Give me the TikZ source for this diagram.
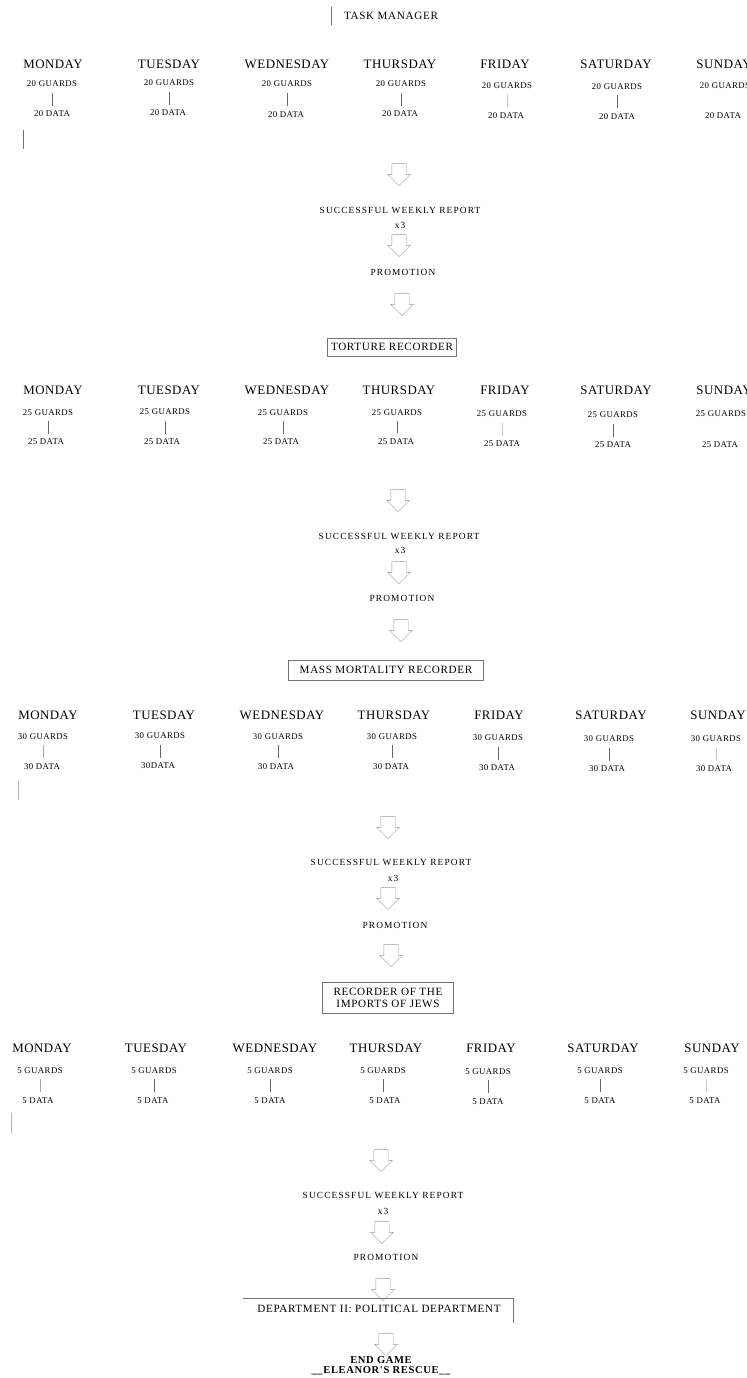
\documentclass[tikz,border=0pt]{standalone}
\usepackage{fontspec}
\setmainfont{Liberation Serif}
\newfontfamily\dayfont[LetterSpace=4]{Liberation Serif}
\newfontfamily\tallyfont[LetterSpace=5]{Liberation Serif}
\newfontfamily\reportfont[LetterSpace=12]{Liberation Serif}
\newfontfamily\postfont[LetterSpace=6]{Liberation Serif}
\usetikzlibrary{shapes.arrows}

\begin{document}
\begin{tikzpicture}
  [
    x=0.03cm, y=-0.03cm,
    day node/.style={font=\dayfont\fontsize{11}{12}\selectfont},
    tally node/.style={font=\tallyfont\fontsize{7.5}{8.5}\selectfont},
    report node/.style={font=\reportfont\fontsize{8}{9}\selectfont},
    post node/.style={font=\postfont\fontsize{9.5}{10}\selectfont, align=center},
    box node/.style={post node, draw=black!55, line width=0.5pt, inner sep=0pt},
    box line/.style={draw=black!55, line width=0.5pt},
    link line/.style={draw=black!60, line width=0.5pt, shorten <=1.5pt, shorten >=1pt},
    faint line/.style={link line, draw=black!20},
    down arrow/.style={single arrow, draw=black!40, line width=0.4pt, rotate=-90,
      minimum height=0.66cm, inner xsep=0pt, inner ysep=0.21cm, single arrow head extend=0.12cm}
    ]

  \useasboundingbox (0,0) rectangle (746,1378);

  \node (tm) [post node] at (391,16) {TASK MANAGER};
  \coordinate (tmtop) at (331,7);
  \coordinate (tmbot) at (331,25);
  \draw[box line] (tmtop) -- (tmbot);

  \node (mon1) [day node] at (53,64) {MONDAY};
  \node (tue1) [day node] at (169,64) {TUESDAY};
  \node (wed1) [day node] at (287,64) {WEDNESDAY};
  \node (thu1) [day node] at (400,64) {THURSDAY};
  \node (fri1) [day node] at (505,64) {FRIDAY};
  \node (sat1) [day node] at (616,64) {SATURDAY};
  \node (sun1) [day node] at (724,64) {SUNDAY};
  \node (mon1g) [tally node] at (52,84) {20 GUARDS};
  \node (tue1g) [tally node] at (169,83) {20 GUARDS};
  \node (wed1g) [tally node] at (287,84) {20 GUARDS};
  \node (thu1g) [tally node] at (401,84) {20 GUARDS};
  \node (fri1g) [tally node] at (507,85.5) {20 GUARDS};
  \node (sat1g) [tally node] at (617,86.5) {20 GUARDS};
  \node (sun1g) [tally node] at (725,86) {20 GUARDS};
  \node (mon1d) [tally node] at (52,114) {20 DATA};
  \node (tue1d) [tally node] at (168,113) {20 DATA};
  \node (wed1d) [tally node] at (286,114.5) {20 DATA};
  \node (thu1d) [tally node] at (400,114) {20 DATA};
  \node (fri1d) [tally node] at (506,115.5) {20 DATA};
  \node (sat1d) [tally node] at (617,116.5) {20 DATA};
  \node (sun1d) [tally node] at (723,116) {20 DATA};
  \draw[link line] (mon1g) -- (mon1g |- mon1d.north);
  \draw[link line] (tue1g) -- (tue1g |- tue1d.north);
  \draw[link line] (wed1g) -- (wed1g |- wed1d.north);
  \draw[link line] (thu1g) -- (thu1g |- thu1d.north);
  \draw[faint line] (fri1g) -- (fri1g |- fri1d.north);
  \draw[link line] (sat1g) -- (sat1g |- sat1d.north);
  \coordinate (tick1a) at (23,130);
  \coordinate (tick1b) at (23,149);
  \draw[box line] (tick1a) -- (tick1b);

  \node (dn1) [down arrow] at (399,171) {};
  \node (rep1) [report node] at (400,210) {SUCCESSFUL WEEKLY REPORT};
  \node (x31) [report node] at (400,225) {x3};
  \node (dn2) [down arrow] at (399,242) {};
  \node (pro1) [report node] at (403,272) {PROMOTION};
  \node (dn3) [down arrow] at (402,301) {};
  \node (tort) [box node, minimum width=3.87cm, minimum height=0.55cm] at (392,347) {TORTURE RECORDER};

  \node (mon2) [day node] at (53,390) {MONDAY};
  \node (tue2) [day node] at (169,390) {TUESDAY};
  \node (wed2) [day node] at (287,390) {WEDNESDAY};
  \node (thu2) [day node] at (399,390) {THURSDAY};
  \node (fri2) [day node] at (505,390) {FRIDAY};
  \node (sat2) [day node] at (616,390) {SATURDAY};
  \node (sun2) [day node] at (724,390) {SUNDAY};
  \node (mon2g) [tally node] at (48,412.5) {25 GUARDS};
  \node (tue2g) [tally node] at (165,412) {25 GUARDS};
  \node (wed2g) [tally node] at (283,412.5) {25 GUARDS};
  \node (thu2g) [tally node] at (397,412.5) {25 GUARDS};
  \node (fri2g) [tally node] at (502,414) {25 GUARDS};
  \node (sat2g) [tally node] at (613,415) {25 GUARDS};
  \node (sun2g) [tally node] at (721,414) {25 GUARDS};
  \node (mon2d) [tally node] at (46,442) {25 DATA};
  \node (tue2d) [tally node] at (162,442) {25 DATA};
  \node (wed2d) [tally node] at (281,442) {25 DATA};
  \node (thu2d) [tally node] at (396,441.5) {25 DATA};
  \node (fri2d) [tally node] at (502,444) {25 DATA};
  \node (sat2d) [tally node] at (613,445) {25 DATA};
  \node (sun2d) [tally node] at (720,445) {25 DATA};
  \draw[link line] (mon2g) -- (mon2g |- mon2d.north);
  \draw[link line] (tue2g) -- (tue2g |- tue2d.north);
  \draw[link line] (wed2g) -- (wed2g |- wed2d.north);
  \draw[link line] (thu2g) -- (thu2g |- thu2d.north);
  \draw[faint line] (fri2g) -- (fri2g |- fri2d.north);
  \draw[link line] (sat2g) -- (sat2g |- sat2d.north);

  \node (dn4) [down arrow] at (398,497) {};
  \node (rep2) [report node] at (399,536) {SUCCESSFUL WEEKLY REPORT};
  \node (x32) [report node] at (400,550) {x3};
  \node (dn5) [down arrow] at (399,569) {};
  \node (pro2) [report node] at (402,598) {PROMOTION};
  \node (dn6) [down arrow] at (401,627) {};
  \node (mass) [box node, minimum width=5.85cm, minimum height=0.6cm] at (386,670) {MASS MORTALITY RECORDER};

  \node (mon3) [day node] at (48,715) {MONDAY};
  \node (tue3) [day node] at (164,715) {TUESDAY};
  \node (wed3) [day node] at (282,715) {WEDNESDAY};
  \node (thu3) [day node] at (394,715) {THURSDAY};
  \node (fri3) [day node] at (499,715) {FRIDAY};
  \node (sat3) [day node] at (611,715) {SATURDAY};
  \node (sun3) [day node] at (718,715) {SUNDAY};
  \node (mon3g) [tally node] at (43,736.5) {30 GUARDS};
  \node (tue3g) [tally node] at (160,736) {30 GUARDS};
  \node (wed3g) [tally node] at (278,736.5) {30 GUARDS};
  \node (thu3g) [tally node] at (392,736.5) {30 GUARDS};
  \node (fri3g) [tally node] at (498,738) {30 GUARDS};
  \node (sat3g) [tally node] at (609,739) {30 GUARDS};
  \node (sun3g) [tally node] at (716,739) {30 GUARDS};
  \node (mon3d) [tally node] at (42,766.5) {30 DATA};
  \node (tue3d) [tally node] at (158,766) {30DATA};
  \node (wed3d) [tally node] at (276,766.5) {30 DATA};
  \node (thu3d) [tally node] at (391,766.5) {30 DATA};
  \node (fri3d) [tally node] at (497,768) {30 DATA};
  \node (sat3d) [tally node] at (607,769) {30 DATA};
  \node (sun3d) [tally node] at (714,769) {30 DATA};
  \draw[faint line, draw=black!35] (mon3g) -- (mon3g |- mon3d.north);
  \draw[link line] (tue3g) -- (tue3g |- tue3d.north);
  \draw[link line] (wed3g) -- (wed3g |- wed3d.north);
  \draw[link line] (thu3g) -- (thu3g |- thu3d.north);
  \draw[link line] (fri3g) -- (fri3g |- fri3d.north);
  \draw[link line] (sat3g) -- (sat3g |- sat3d.north);
  \draw[faint line] (sun3g) -- (sun3g |- sun3d.north);
  \coordinate (tick3a) at (18,781);
  \coordinate (tick3b) at (18,800);
  \draw[box line, draw=black!30] (tick3a) -- (tick3b);

  \node (dn7) [down arrow] at (388,824) {};
  \node (rep3) [report node] at (391,862) {SUCCESSFUL WEEKLY REPORT};
  \node (x33) [report node] at (393,878) {x3};
  \node (dn8) [down arrow] at (388,895) {};
  \node (pro3) [report node] at (395,925) {PROMOTION};
  \node (dn9) [down arrow] at (391,952) {};
  \node (imp) [box node, minimum width=3.93cm, minimum height=0.93cm] at (388,998) {RECORDER OF THE\\IMPORTS OF JEWS};

  \node (mon4) [day node] at (42,1048) {MONDAY};
  \node (tue4) [day node] at (156,1048) {TUESDAY};
  \node (wed4) [day node] at (275,1048) {WEDNESDAY};
  \node (thu4) [day node] at (386,1048) {THURSDAY};
  \node (fri4) [day node] at (491,1048) {FRIDAY};
  \node (sat4) [day node] at (603,1048) {SATURDAY};
  \node (sun4) [day node] at (712,1048) {SUNDAY};
  \node (mon4g) [tally node] at (40,1070.5) {5 GUARDS};
  \node (tue4g) [tally node] at (154,1070.5) {5 GUARDS};
  \node (wed4g) [tally node] at (270,1070.5) {5 GUARDS};
  \node (thu4g) [tally node] at (383,1070.5) {5 GUARDS};
  \node (fri4g) [tally node] at (488,1071.5) {5 GUARDS};
  \node (sat4g) [tally node] at (600,1070.5) {5 GUARDS};
  \node (sun4g) [tally node] at (706,1070.5) {5 GUARDS};
  \node (mon4d) [tally node] at (38,1100.5) {5 DATA};
  \node (tue4d) [tally node] at (153,1100.5) {5 DATA};
  \node (wed4d) [tally node] at (270,1100.5) {5 DATA};
  \node (thu4d) [tally node] at (385,1100.5) {5 DATA};
  \node (fri4d) [tally node] at (488,1101.5) {5 DATA};
  \node (sat4d) [tally node] at (600,1100.5) {5 DATA};
  \node (sun4d) [tally node] at (705,1100.5) {5 DATA};
  \draw[faint line, draw=black!35] (mon4g) -- (mon4g |- mon4d.north);
  \draw[link line] (tue4g) -- (tue4g |- tue4d.north);
  \draw[link line] (wed4g) -- (wed4g |- wed4d.north);
  \draw[link line] (thu4g) -- (thu4g |- thu4d.north);
  \draw[link line] (fri4g) -- (fri4g |- fri4d.north);
  \draw[link line] (sat4g) -- (sat4g |- sat4d.north);
  \draw[faint line] (sun4g) -- (sun4g |- sun4d.north);
  \coordinate (tick4a) at (11,1113);
  \coordinate (tick4b) at (11,1133);
  \draw[box line, draw=black!30] (tick4a) -- (tick4b);

  \node (dn10) [down arrow] at (381,1157) {};
  \node (rep4) [report node] at (383,1195) {SUCCESSFUL WEEKLY REPORT};
  \node (x34) [report node] at (383,1211) {x3};
  \node (dn11) [down arrow] at (382,1229) {};
  \node (pro4) [report node] at (386,1257) {PROMOTION};
  \node (dn12) [down arrow] at (383,1286) {};
  \node (dept) [post node] at (379,1309) {DEPARTMENT II: POLITICAL DEPARTMENT};
  \coordinate (deptl) at (243,1298);
  \coordinate (deptr) at (513,1298);
  \coordinate (deptb) at (513,1323);
  \draw[box line] (deptl) -- (deptr) -- (deptb);
  \node (dn13) [down arrow] at (386,1341) {};
  \node (end) [post node, font=\postfont\fontsize{9}{8.6}\selectfont\bfseries] at (381,1366) {END GAME\\\_\_ELEANOR'S RESCUE\_\_};
\end{tikzpicture}
\end{document}
